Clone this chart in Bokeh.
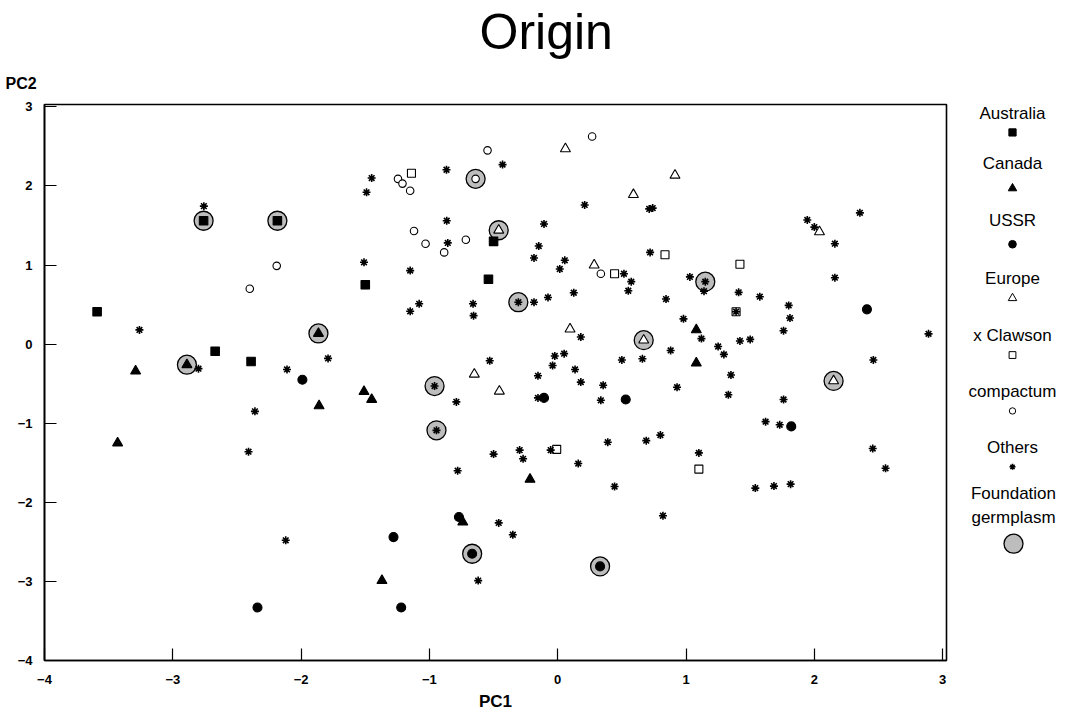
from bokeh.plotting import figure
from bokeh.models import Range1d, FixedTicker, Title
from bokeh.layouts import row
from bokeh.embed import file_html
from bokeh.resources import INLINE
from bokeh.core.properties import value

# ---------------- data (PC1, PC2, foundation flag) ----------------
aus_pc1 = [-3.59, -2.67, -2.39, -1.50, -0.54, -0.50, -2.76, -2.185]
aus_pc2 = [0.41, -0.09, -0.22, 0.75, 0.82, 1.30, 1.56, 1.56]
aus_fnd = [0, 0, 0, 0, 0, 0, 1, 1]

can_pc1 = [-3.29, -3.43, -1.86, -1.51, -1.45, -0.216, -0.74, -1.37, 1.08, 1.08, -1.865, -2.89]
can_pc2 = [-0.34, -1.25, -0.78, -0.60, -0.70, -1.71, -2.25, -2.99, 0.18, -0.24, 0.135, -0.26]
can_fnd = [0, 0, 0, 0, 0, 0, 0, 0, 0, 0, 1, 1]

ussr_pc1 = [-1.99, -2.34, -0.107, 0.53, -0.77, -1.28, -1.22, 2.41, 1.82, -0.667, 0.33]
ussr_pc2 = [-0.45, -3.33, -0.68, -0.70, -2.185, -2.44, -3.33, 0.44, -1.04, -2.65, -2.81]
ussr_fnd = [0, 0, 0, 0, 0, 0, 0, 0, 0, 1, 1]

eur_pc1 = [0.06, 0.59, 0.284, 0.096, -0.65, -0.455, 0.914, 2.04, -0.46, 0.67, 2.15]
eur_pc2 = [2.47, 1.89, 1.00, 0.19, -0.38, -0.595, 2.135, 1.42, 1.44, 0.05, -0.465]
eur_fnd = [0, 0, 0, 0, 0, 0, 0, 0, 1, 1, 1]

claw_pc1 = [-1.14, 0.443, -0.008, 0.836, 1.42, 1.39, 1.10]
claw_pc2 = [2.16, 0.89, -1.33, 1.13, 1.01, 0.41, -1.58]
claw_fnd = [0, 0, 0, 0, 0, 0, 0]

comp_pc1 = [-2.19, -2.40, -0.547, 0.268, -1.245, -1.21, -1.15, -1.12, -1.03, -0.885, -0.716, 0.336, -0.64]
comp_pc2 = [0.99, 0.70, 2.45, 2.625, 2.09, 2.03, 1.94, 1.43, 1.27, 1.16, 1.32, 0.89, 2.09]
comp_fnd = [0, 0, 0, 0, 0, 0, 0, 0, 0, 0, 0, 0, 1]

oth_pc1 = [-3.26, -1.79, -2.80, -2.11, -2.36, -2.41, -2.12,
           -0.43, -0.867, -1.45, -1.49, 0.21, 0.713, 0.74, -0.865, -0.107, -0.857, -0.148,
           -0.185, 0.055, 0.016, 0.516, 0.573, 0.55, -1.51, -1.15, -0.185, -0.076, 0.125,
           -1.08, -1.15, -0.66, -0.656, 0.18, 0.50, 0.66, -0.023, 0.05, -0.04, 0.135, -0.53, -0.154,
           -0.79, -0.154, 0.18, 0.354, 0.336, -0.50, -0.297, -0.27, -0.055, 0.16, 0.39, 0.69,
           0.443, -0.78, -0.46, -0.35, -0.62,
           0.72, 1.03, 1.14, 1.41, 1.575, 0.844, 1.39, 1.80, 1.81, 1.76, 0.98, 1.12, 1.25,
           1.295, 1.42, 1.50, 0.88, 1.35, 1.945, 2.00, 2.355, 2.16, 2.16, 2.89, 2.46,
           0.93, 1.33, 1.76, 1.62, 1.73, 0.80, 1.10, 1.54, 1.685, 1.815, 2.455, 2.555, 0.82,
           -2.758, -0.307, -0.96, -0.945, 1.15]
oth_pc2 = [0.18, -0.18, -0.31, -0.32, -0.85, -1.36, -2.48,
           2.27, 2.205, 2.10, 1.92, 1.76, 1.71, 1.72, 1.56, 1.52, 1.28, 1.24,
           1.09, 1.06, 0.95, 0.89, 0.79, 0.675, 1.035, 0.93, 0.53, 0.59, 0.65,
           0.51, 0.415, 0.51, 0.36, 0.09, -0.20, -0.185, -0.15, -0.12, -0.27, -0.32, -0.21, -0.40,
           -0.73, -0.68, -0.48, -0.52, -0.71, -1.39, -1.34, -1.45, -1.34, -1.51, -1.24, -1.22,
           -1.80, -1.60, -2.26, -2.41, -2.99,
           1.16, 0.85, 0.67, 0.655, 0.60, 0.57, 0.41, 0.49, 0.33, 0.17, 0.32, 0.07, -0.03,
           -0.13, 0.04, 0.06, -0.08, -0.39, 1.57, 1.48, 1.66, 1.27, 0.84, 0.13, -0.20,
           -0.545, -0.64, -0.70, -0.98, -1.02, -1.15, -1.375, -1.82, -1.795, -1.77, -1.32, -1.57, -2.17,
           1.745, 0.53, -0.53, -1.09, 0.79]
oth_fnd = [0] * 98 + [1, 1, 1, 1, 1]

legend_labels = ["Australia", "Canada", "USSR", "Europe", "x Clawson", "compactum", "Others"]
foundation_label = ["Foundation", "germplasm"]
x_ticks = [-4, -3, -2, -1, 0, 1, 2, 3]
y_ticks = [-4, -3, -2, -1, 0, 1, 2, 3]

FONT = "Liberation Sans"

groups = [
    (aus_pc1, aus_pc2, aus_fnd, "square", "black", 8.5),
    (can_pc1, can_pc2, can_fnd, "triangle", "black", 10),
    (ussr_pc1, ussr_pc2, ussr_fnd, "circle", "black", 9),
    (eur_pc1, eur_pc2, eur_fnd, "triangle", "white", 10),
    (claw_pc1, claw_pc2, claw_fnd, "square", "white", 8),
    (comp_pc1, comp_pc2, comp_fnd, "circle", "white", 7.5),
    (oth_pc1, oth_pc2, oth_fnd, "asterisk", None, 8),
]

HAS_STANDOFF = "standoff" in Title.properties()

H = 715
p = figure(width=950, height=H, output_backend="svg", toolbar_location=None,
           x_range=Range1d(-4, 3.03), y_range=Range1d(-4, 3.03),
           min_border_left=44, min_border_right=4, min_border_top=103, min_border_bottom=55)
p.grid.visible = False
p.outline_line_color = "black"
p.outline_line_width = 1.6

p.title.text = "Origin"
p.title.align = "left"
p.title.offset = 435
p.title.text_font = FONT
p.title.text_font_size = "50px"
p.title.text_font_style = "normal"
p.title.text_color = "black"

pc2_title = Title(text="PC2", align="left", offset=-39, text_font=FONT,
                  text_font_size="16px", text_font_style="bold", text_color="black")
if HAS_STANDOFF:
    pc2_title.standoff = 25
    p.title.standoff = 2
    p.add_layout(pc2_title, "above")
else:
    p.add_layout(Title(text=" ", text_font_size="6px"), "above")
    p.add_layout(pc2_title, "above")

for ax in (p.xaxis[0], p.yaxis[0]):
    ax.axis_line_width = 1.6
    ax.major_tick_in = 12
    ax.major_tick_out = 0
    ax.minor_tick_in = 0
    ax.minor_tick_out = 0
    ax.major_tick_line_width = 1.2
    ax.major_label_text_font = FONT
    ax.major_label_text_font_style = "bold"
    ax.major_label_text_font_size = "13px"
    ax.major_label_text_color = "black"
p.xaxis[0].ticker = FixedTicker(ticks=x_ticks)
p.yaxis[0].ticker = FixedTicker(ticks=y_ticks)
p.xaxis[0].major_label_standoff = 14
p.yaxis[0].major_label_standoff = 12
p.xaxis[0].axis_label = "PC1"
p.xaxis[0].axis_label_standoff = 5
p.xaxis[0].axis_label_text_font = FONT
p.xaxis[0].axis_label_text_font_size = "17px"
p.xaxis[0].axis_label_text_font_style = "bold"
p.xaxis[0].axis_label_text_color = "black"

# foundation circles underneath
for xs, ys, fs, mk, fill, sz in groups:
    fx = [x for x, f in zip(xs, fs) if f]
    fy = [y for y, f in zip(ys, fs) if f]
    if fx:
        p.scatter(fx, fy, marker="circle", size=19, fill_color="#bdbdbd",
                  line_color="black", line_width=1.3)

for xs, ys, fs, mk, fill, sz in groups:
    if mk == "asterisk":
        p.scatter(xs, ys, marker="asterisk", size=sz, line_color="black", line_width=1.6)
    else:
        p.scatter(xs, ys, marker=mk, size=sz, fill_color=fill, line_color="black",
                  line_width=1.1)

# ---------------- legend panel (frame aligned with the plot frame) ----------------
leg = figure(width=134, height=H, output_backend="svg", toolbar_location=None,
             x_range=Range1d(950, 1084), y_range=Range1d(660, 103),
             min_border=0, min_border_left=0, min_border_right=0,
             min_border_top=103, min_border_bottom=55)
leg.axis.visible = False
leg.grid.visible = False
leg.outline_line_color = None

cx = 1012
label_y = [112, 162, 219, 277, 334, 391, 447]
mark_y = [131, 187, 243, 297, 354, 410, 466]
for i, (xs, ys, fs, mk, fill, sz) in enumerate(groups):
    leg.text([cx], [label_y[i]], text=[legend_labels[i]], text_font_size="17px",
             text_align="center", text_baseline="middle", text_color="black",
             text_font=value(FONT))
    if mk == "asterisk":
        leg.scatter([cx], [mark_y[i]], marker="asterisk", size=6, line_color="black",
                    line_width=1.5)
    else:
        leg.scatter([cx], [mark_y[i]], marker=mk, size=sz * 0.85, fill_color=fill,
                    line_color="black", line_width=1.0)
leg.text([cx + 1, cx + 1], [493, 517], text=foundation_label, text_font_size="17px",
         text_align="center", text_baseline="middle", text_color="black",
         text_font=value(FONT))
leg.scatter([cx + 1], [543], marker="circle", size=19, fill_color="#bdbdbd",
            line_color="black", line_width=1.3)

layout = row(p, leg)
open("out.html", "w").write(file_html(layout, INLINE))
